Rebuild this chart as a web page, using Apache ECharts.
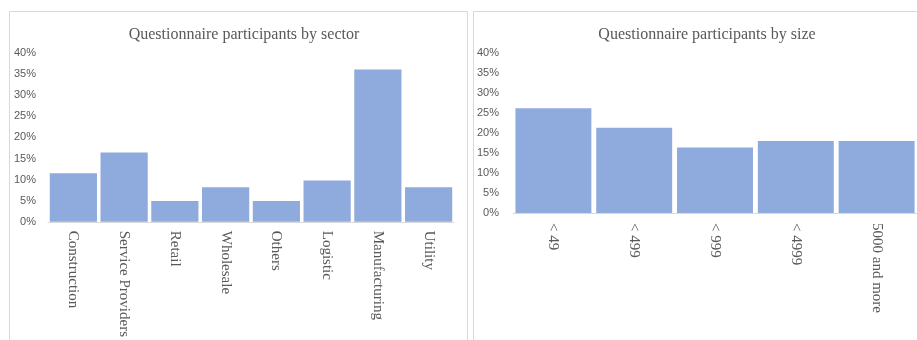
<!DOCTYPE html>
<html>
<head>
<meta charset="utf-8">
<script src="https://cdn.jsdelivr.net/npm/echarts@6/dist/echarts.min.js"></script>
<style>
  html, body { margin: 0; padding: 0; background: #ffffff; }
  #chart { width: 917px; height: 340px; }
</style>
</head>
<body>
<div id="chart"></div>
<script>
// Share of questionnaire participants (%)
const sectorCategories = ['Construction', 'Service Providers', 'Retail', 'Wholesale', 'Others', 'Logistic', 'Manufacturing', 'Utility'];
const sectorValues = [11.5, 16.4, 4.9, 8.2, 4.9, 9.8, 36.1, 8.2];

const sizeCategories = ['< 49', '< 499', '< 999', '< 4999', '5000 and more'];
const sizeValues = [26.2, 21.3, 16.4, 18.0, 18.0];

const yTicks = { min: 0, max: 40, interval: 5 };

const textGrey = '#595959';
const barColor = '#8faadc';
const lineGrey = '#d9d9d9';

function valueAxis(gridIndex, margin) {
  return {
    type: 'value',
    gridIndex: gridIndex,
    min: yTicks.min,
    max: yTicks.max,
    interval: yTicks.interval,
    axisLine: { show: false },
    axisTick: { show: false },
    splitLine: { show: false },
    axisLabel: {
      formatter: '{value}%',
      color: textGrey,
      fontFamily: 'Liberation Sans',
      fontSize: 11,
      margin: margin
    }
  };
}

function categoryAxis(gridIndex, data, margin) {
  return {
    type: 'category',
    gridIndex: gridIndex,
    data: data,
    axisLine: { lineStyle: { color: lineGrey, width: 1 } },
    axisTick: { show: false },
    axisLabel: {
      rotate: -90,
      interval: 0,
      color: textGrey,
      fontFamily: 'Liberation Serif',
      fontSize: 15,
      margin: margin
    }
  };
}

const chart = echarts.init(document.getElementById('chart'), null, { renderer: 'canvas' });

chart.setOption({
  animation: false,
  backgroundColor: '#ffffff',
  graphic: [
    { type: 'rect', shape: { x: 9.5, y: 11.5, width: 458, height: 340 },
      style: { fill: 'none', stroke: lineGrey, lineWidth: 1 }, silent: true },
    { type: 'rect', shape: { x: 473.5, y: 11.5, width: 460, height: 340 },
      style: { fill: 'none', stroke: lineGrey, lineWidth: 1 }, silent: true }
  ],
  title: [
    {
      text: 'Questionnaire participants by sector',
      left: 239, top: 22, textAlign: 'center',
      textStyle: { fontFamily: 'Liberation Serif', fontSize: 16, fontWeight: 'normal', color: textGrey }
    },
    {
      text: 'Questionnaire participants by size',
      left: 702, top: 22, textAlign: 'center',
      textStyle: { fontFamily: 'Liberation Serif', fontSize: 16, fontWeight: 'normal', color: textGrey }
    }
  ],
  grid: [
    { left: 48, right: 463, top: 53, bottom: 116 },
    { left: 513, right: 0, top: 53, bottom: 127 }
  ],
  xAxis: [
    categoryAxis(0, sectorCategories, 9),
    categoryAxis(1, sizeCategories, 10)
  ],
  yAxis: [
    valueAxis(0, 12),
    valueAxis(1, 14)
  ],
  series: [
    {
      type: 'bar', xAxisIndex: 0, yAxisIndex: 0,
      data: sectorValues, barCategoryGap: '7%',
      itemStyle: { color: barColor }
    },
    {
      type: 'bar', xAxisIndex: 1, yAxisIndex: 1,
      data: sizeValues, barCategoryGap: '6%',
      itemStyle: { color: barColor }
    }
  ]
});
</script>
</body>
</html>
